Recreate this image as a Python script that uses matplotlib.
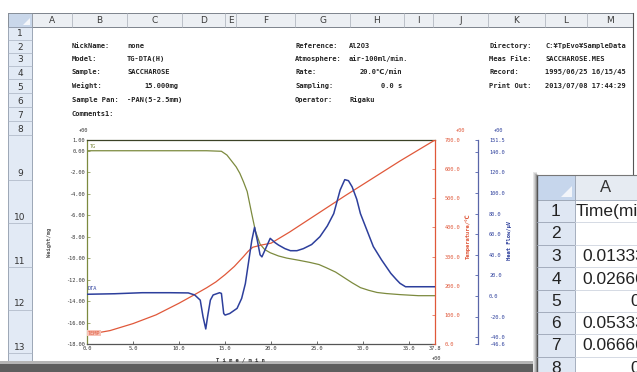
import matplotlib
matplotlib.use("Agg")
import matplotlib.pyplot as plt
from matplotlib.patches import Rectangle, Polygon

plt.rcParams["font.family"] = ["DejaVu Sans Mono", "DejaVu Sans"]

# sheet labels
col_names = ["A", "B", "C", "D", "E", "F", "G", "H", "I", "J", "K", "L", "M"]
row_names = [str(i) for i in range(1, 14)]

# header block (label, value) pairs, three column groups
info_left = [("NickName:", "none"), ("Model:", "TG-DTA(H)"), ("Sample:", "SACCHAROSE"),
             ("Weight:", "15.000mg"), ("Sample Pan:", "-PAN(5-2.5mm)"), ("Comments1:", "")]
info_mid = [("Reference:", "Al2O3"), ("Atmosphere:", "air-100ml/min."), ("Rate:", "20.0℃/min"),
            ("Sampling:", "0.0 s"), ("Operator:", "Rigaku")]
info_right = [("Directory:", "C:¥TpEvo¥SampleData"), ("Meas File:", "SACCHAROSE.MES"),
              ("Record:", "1995/06/25 16/15/45"), ("Print Out:", "2013/07/08 17:44:29")]

# TG curve (mg)
tg_time = [0.0, 5.0, 10.0, 13.0, 14.6, 15.2, 15.7, 16.2, 16.6, 17.0, 17.4, 17.9, 18.3,
           18.8, 19.3, 19.9, 20.8, 21.7, 23.0, 24.2, 25.2, 26.0, 27.0, 27.9, 28.8, 29.7,
           30.6, 31.5, 32.5, 34.0, 36.0, 37.8]
tg_weight = [0.0, 0.0, 0.0, 0.0, -0.05, -0.4, -0.95, -1.5, -2.1, -2.9, -3.8, -5.9, -7.5,
             -8.7, -9.2, -9.5, -9.8, -10.0, -10.2, -10.4, -10.6, -10.9, -11.3, -11.8, -12.3,
             -12.75, -13.0, -13.2, -13.3, -13.4, -13.5, -13.5]

# temperature curve (deg C)
temp_time = [0.0, 2.5, 5.0, 7.5, 10.0, 12.0, 13.0, 14.0, 15.0, 16.0, 17.0, 17.5, 18.0,
             19.0, 20.0, 22.0, 25.0, 28.0, 31.0, 34.0, 37.8]
temp_val = [32, 46, 70, 100, 140, 175, 193, 213, 238, 266, 300, 318, 332,
            340, 346, 384, 446, 508, 568, 628, 700]

# DTA curve (uV)
dta_time = [0.0, 3.0, 6.0, 9.0, 11.0, 11.7, 12.3, 12.6, 12.9, 13.1, 13.4, 13.7, 14.4,
            14.6, 14.85, 15.0, 15.5, 16.3, 16.8, 17.2, 17.5, 17.9, 18.2, 18.5, 18.8, 19.0,
            19.4, 19.9, 20.4, 20.8, 21.5, 22.1, 22.8, 23.5, 24.4, 25.3, 26.1, 26.8, 27.5,
            28.0, 28.4, 28.8, 29.3, 29.7, 30.4, 31.1, 32.0, 33.0, 33.6, 34.0, 34.6, 36.0, 37.8]
dta_val = [1.7, 2.2, 3.2, 3.2, 3.0, 1.0, -4, -20, -32, -20, -4, 1.0, 3.2,
           2.5, -17, -18.5, -17, -12, -2.3, 12, 30, 54, 66.7, 54, 40, 38,
           46, 56, 52, 49.5, 46, 44, 44, 46, 50, 57.6, 68, 80, 103,
           113, 112, 106, 94, 80, 64, 48, 35, 22, 16, 12.3, 9, 9, 9]

x_ticks = [0, 5, 10, 15, 20, 25, 30, 35, 37.8]
tg_ticks = [1, 0, -2, -4, -6, -8, -10, -12, -14, -16, -18]
temp_ticks = [0, 100, 200, 300, 400, 500, 600, 700]
hf_ticks = [-46.6, -40, -20, 0, 20, 40, 60, 80, 100, 120, 140, 151.5]

# small overlaid sheet window
win_rows = ["1", "2", "3", "4", "5", "6", "7", "8"]
win_cells = ["Time(min)", "", "0.0133333", "0.0266667", "0.04",
             "0.0533333", "0.0666667", "0.08"]

W, H = 637, 372
fig = plt.figure(figsize=(W / 100, H / 100), dpi=100)


def fx(x):
    return x / W


def fy(y):
    return 1 - y / H


# ---- background spreadsheet ----
bg = fig.add_axes([0, 0, 1, 1])
bg.set_xlim(0, W)
bg.set_ylim(H, 0)
bg.axis("off")

col_edges = [32, 72, 127, 182, 225, 236, 295, 350, 404, 433, 488, 545, 587, 633]
row_edges = [27, 40, 53, 66, 79, 93, 107, 121, 135, 180, 223, 267, 310, 353]

bg.add_patch(Rectangle((8, 13), 625, 14, fc="#eceff3", ec="#7d838c", lw=0.7))
bg.add_patch(Rectangle((8, 13), 24, 14, fc="#c9d7ea", ec="#7d838c", lw=0.5))
bg.add_patch(Polygon([(23, 25), (30, 25), (30, 18)], fc="#f4f6fa", ec="none"))
for i, name in enumerate(col_names):
    bg.plot([col_edges[i + 1]] * 2, [13, 27], color="#a8aeb7", lw=0.5)
    bg.text((col_edges[i] + col_edges[i + 1]) / 2, 20.5, name, ha="center", va="center",
            fontsize=6.5, color="#3a3a3a", family="DejaVu Sans")

bg.add_patch(Rectangle((8, 27), 24, 340, fc="#e2eaf5", ec="#8f9aab", lw=0.6))
for i, name in enumerate(row_names):
    bg.plot([8, 32], [row_edges[i + 1]] * 2, color="#a9b3c2", lw=0.5)
    bg.text(20, row_edges[i + 1] - 6, name, ha="center", va="center", fontsize=6.5,
            color="#333333", family="DejaVu Sans")
bg.plot([633, 633], [13, 175], color="#555555", lw=0.8)

rows_y = [46, 59, 72, 86, 100, 114]
for (lab, val), y in zip(info_left, rows_y):
    bg.text(72, y, lab, fontsize=5, weight="bold", va="center", color="#222222")
    if lab == "Weight:":
        bg.text(178, y, val, fontsize=5, weight="bold", va="center", ha="right", color="#222222")
    else:
        bg.text(127, y, val, fontsize=5, weight="bold", va="center", color="#222222")
for (lab, val), y in zip(info_mid, rows_y):
    bg.text(295, y, lab, fontsize=5, weight="bold", va="center", color="#222222")
    if lab in ("Rate:", "Sampling:"):
        bg.text(402, y, val, fontsize=5, weight="bold", va="center", ha="right", color="#222222")
    else:
        bg.text(349, y, val, fontsize=5, weight="bold", va="center", color="#222222")
for (lab, val), y in zip(info_right, rows_y):
    bg.text(489, y, lab, fontsize=5, weight="bold", va="center", color="#222222")
    bg.text(545, y, val, fontsize=5, weight="bold", va="center", color="#222222")

bg.add_patch(Rectangle((0, 361), 537, 3, fc="#b5b5b5", ec="none"))
bg.add_patch(Rectangle((0, 364), 537, 8, fc="#5e5e5e", ec="none"))

# ---- chart ----
tg_c, temp_c, dta_c = "#7c8a3e", "#e0583a", "#2d3f9c"
ax = fig.add_axes([fx(87), fy(344), (435 - 87) / W, (344 - 140) / H])
ax.patch.set_alpha(0)
ax.plot(tg_time, tg_weight, color=tg_c, lw=0.9)
ax.set_xlim(0, 37.8)
ax.set_ylim(-18, 1)
ax.set_xticks(x_ticks)
ax.set_xticklabels([f"{v:.1f}" for v in x_ticks])
ax.set_yticks(tg_ticks)
ax.set_yticklabels([f"{v:.2f}" for v in tg_ticks])
ax.tick_params(direction="in", length=2, width=0.5, labelsize=3.8, pad=1.5, colors="#333333")
ax.tick_params(axis="y", colors=tg_c, labelcolor="#333333")
ax.spines["left"].set_color(tg_c)
ax.spines["top"].set_color("#3b4226")
ax.spines["bottom"].set_color("#555555")
ax.spines["right"].set_visible(False)
for s in ax.spines.values():
    s.set_linewidth(0.9)

ax_t = ax.twinx()
ax_t.plot(temp_time, temp_val, color=temp_c, lw=0.9)
ax_t.set_ylim(0, 700)
ax_t.set_yticks(temp_ticks)
ax_t.set_yticklabels([f"{v:.1f}" for v in temp_ticks])
ax_t.tick_params(direction="in", length=2, width=0.5, labelsize=3.8, pad=7, colors=temp_c)
for k in ("left", "top", "bottom"):
    ax_t.spines[k].set_visible(False)
ax_t.spines["right"].set_color(temp_c)
ax_t.spines["right"].set_linewidth(0.9)

ax_h = ax.twinx()
ax_h.plot(dta_time, dta_val, color=dta_c, lw=1.1)
ax_h.set_ylim(-46.6, 151.5)
ax_h.set_yticks(hf_ticks)
ax_h.set_yticklabels([f"{v:.1f}" for v in hf_ticks])
ax_h.spines["right"].set_position(("axes", (478 - 87) / 348))
ax_h.tick_params(direction="in", length=2, width=0.5, labelsize=3.8, pad=8, colors=dta_c)
for k in ("left", "top", "bottom"):
    ax_h.spines[k].set_visible(False)
ax_h.spines["right"].set_color("#5a66a8")
ax_h.spines["right"].set_linewidth(0.9)

ax.text(0.3, 0.2, "TG", fontsize=3.8, color=tg_c, va="bottom")
ax_h.text(0.1, 4.5, "DTA", fontsize=3.8, color=dta_c, va="bottom")
ax_t.text(0.1, 28, "TEMP", fontsize=3.8, color=temp_c, va="bottom",
          bbox=dict(fc="#f6c3b8", ec="none", pad=0.3))

small = dict(fontsize=3.8, ha="center", va="center")
fig.text(fx(83), fy(131), "+00", color="#333333", **small)
fig.text(fx(460), fy(131), "+00", color=temp_c, **small)
fig.text(fx(498), fy(131), "+00", color=dta_c, **small)
fig.text(fx(436), fy(359), "+00", color="#333333", **small)
fig.text(fx(240), fy(360), "T i m e / m i n", color="#333333", fontsize=4, ha="center",
         va="center", weight="bold")
fig.text(fx(50), fy(242), "Weight/mg", rotation=90, color="#555555", fontsize=4,
         ha="center", va="center", weight="bold")
fig.text(fx(468), fy(236), "Temperature/℃", rotation=90, color=temp_c, fontsize=4,
         ha="center", va="center", weight="bold")
fig.text(fx(510), fy(240), "Heat Flow/µV", rotation=90, color=dta_c, fontsize=4,
         ha="center", va="center", weight="bold")

# ---- overlaid sheet window ----
ov = fig.add_axes([0, 0, 1, 1], zorder=10)
ov.set_xlim(0, W)
ov.set_ylim(H, 0)
ov.axis("off")
ov.patch.set_alpha(0)
for i, c in enumerate(["#e6e6e6", "#cfcfcf", "#b4b4b4", "#9a9a9a"]):
    ov.add_patch(Rectangle((533 + i, 172 + i), 4 - i, 200, fc=c, ec="none"))
ov.add_patch(Rectangle((537, 175), 110, 200, fc="white", ec="none"))
ov.add_patch(Rectangle((537, 175), 38, 25, fc="#c6d6ec", ec="#9aa4b4", lw=0.6))
ov.add_patch(Polygon([(561, 197), (572, 197), (572, 186)], fc="#f2f5fa", ec="none"))
ov.add_patch(Rectangle((575, 175), 70, 25, fc="#e6ebf2", ec="#9aa4b4", lw=0.6))
ov.add_patch(Rectangle((537, 200), 38, 175, fc="#dfe7f3", ec="#9aa4b4", lw=0.6))
ov.plot([537, 537], [175, 372], color="#555555", lw=1.0)
ov.plot([537, 637], [175, 175], color="#777777", lw=0.8)
ov.text(606, 188, "A", fontsize=12, ha="center", va="center", color="#333333",
        family="Liberation Sans")
win_edges = [200, 222, 245, 267, 290, 312, 334, 357, 379]
for i, (rn, cell) in enumerate(zip(win_rows, win_cells)):
    y0, y1 = win_edges[i], win_edges[i + 1]
    ov.plot([537, 575], [y1, y1], color="#9aa4b4", lw=0.6)
    ov.plot([575, 637], [y1, y1], color="#cfd5df", lw=0.6)
    ym = (y0 + y1) / 2 + 0.5
    ov.text(556, ym, rn, fontsize=12.5, ha="center", va="center", color="#222222",
            family="Liberation Sans")
    if i == 0:
        ov.text(576, ym, cell, fontsize=12.5, ha="left", va="center", color="#222222",
                family="Liberation Sans")
    elif cell:
        ov.text(664, ym, cell, fontsize=12.5, ha="right", va="center", color="#222222",
                family="Liberation Sans")

fig.savefig("out.png", dpi=100)
